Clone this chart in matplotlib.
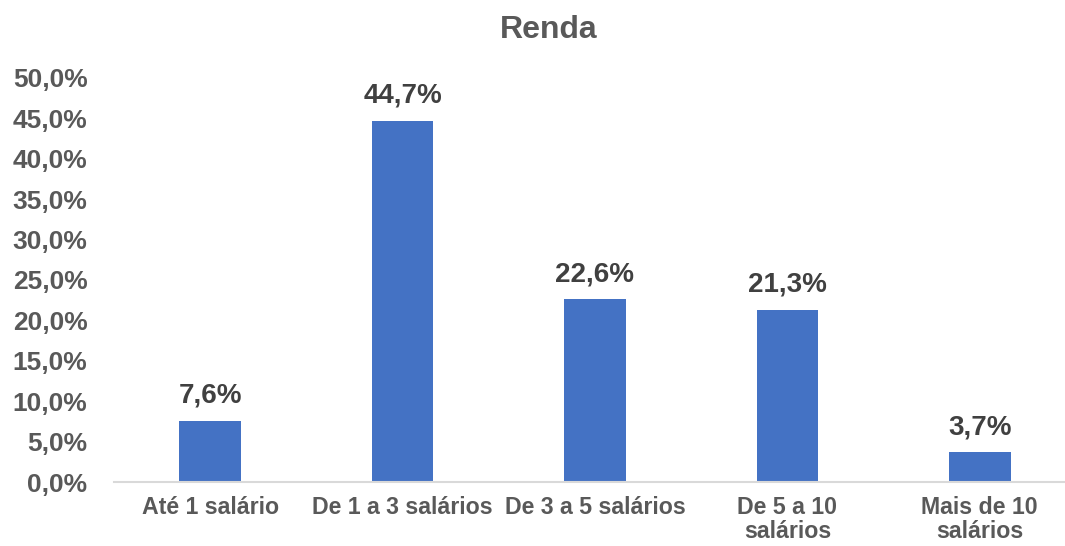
import matplotlib.pyplot as plt
from matplotlib.ticker import FuncFormatter

# Data
categories = ["Até 1 salário", "De 1 a 3 salários", "De 3 a 5 salários",
              "De 5 a 10\nsalários", "Mais de 10\nsalários"]
values = [7.6, 44.7, 22.6, 21.3, 3.7]
title = "Renda"

plt.rcParams['font.family'] = ['Liberation Sans', 'DejaVu Sans']
plt.rcParams['font.weight'] = 'bold'

W, H = 1065, 546
fig = plt.figure(figsize=(W / 100, H / 100), dpi=100)
ax = fig.add_axes([114 / W, 64 / H, (W - 114) / W, 404 / H])

x = range(len(values))
ax.bar(x, values, width=0.32, color="#4472C4")

for xi, v in zip(x, values):
    ax.annotate(f"{v:.1f}%".replace(".", ","), (xi, v), xytext=(0, 18),
                textcoords="offset points", ha="center", va="center",
                fontsize=20, fontweight="bold", color="#404040")

ax.set_ylim(0, 50)
ax.set_xlim(-0.5, 4.443)
ax.set_yticks(range(0, 51, 5))
ax.yaxis.set_major_formatter(FuncFormatter(lambda v, p: f"{v:.1f}%".replace(".", ",")))
ax.set_xticks(list(x))
ax.set_xticklabels(categories, linespacing=1.05)

ax.tick_params(axis="y", length=0, pad=19, labelsize=19, labelcolor="#595959")
ax.tick_params(axis="x", length=0, pad=10, labelsize=16.7, labelcolor="#595959")
for lab in ax.get_xticklabels() + ax.get_yticklabels():
    lab.set_fontweight("bold")

for s in ["top", "right", "left"]:
    ax.spines[s].set_visible(False)
ax.spines["bottom"].set_color("#D9D9D9")
ax.spines["bottom"].set_linewidth(1.5)

fig.text(549 / W, 1 - 30 / H, title, ha="center", va="center",
         fontsize=23, fontweight="bold", color="#595959")

fig.savefig("out.png", dpi=100)
